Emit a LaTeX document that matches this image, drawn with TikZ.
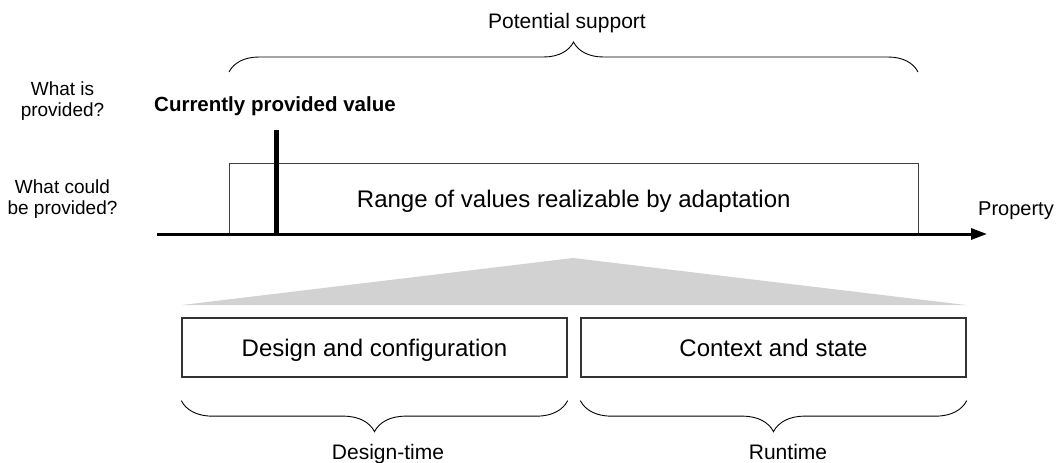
\documentclass[tikz,border=0pt]{standalone}
\usepackage{fontspec}
\setmainfont{Liberation Sans}
\usetikzlibrary{arrows.meta,decorations.pathreplacing,positioning}
\colorlet{colorAxis}{black}
\colorlet{colorBox}{black!80}
\colorlet{colorRange}{black!75}
\colorlet{colorSpread}{gray!35}
\tikzset{
   every path/.style={>=Stealth},
   axis/.style={-{Triangle[length=16pt,width=11pt]},draw=colorAxis,line width=3pt},
   bar/.style={draw=colorAxis,line width=4.5pt},
   rangebox/.style={draw=colorRange,line width=0.9pt,inner sep=0pt,minimum width=688.5pt,minimum height=70.5pt,text height=17.5pt,text depth=0pt,font=\fontsize{24}{28}\selectfont},
   source/.style={draw=colorBox,line width=1.3pt,inner sep=0pt,minimum width=385pt,minimum height=59pt,text height=17pt,text depth=0pt,font=\fontsize{24}{28}\selectfont},
   brace up/.style={decorate,decoration={brace,amplitude=#1},line width=0.9pt},
   brace down/.style={decorate,decoration={brace,mirror,amplitude=#1},line width=0.9pt},
   question/.style={align=center,inner sep=0pt,font=\fontsize{19}{21.7}\selectfont},
   caption/.style={anchor=base,inner sep=0pt,font=\fontsize{21}{25}\selectfont},
}

\begin{document}
\begin{tikzpicture}[x=1pt,y=-1pt]
\useasboundingbox (0,0) rectangle (1058,463);
% potential support
\node[caption] (potential) at (567,28.3) {Potential support};
\coordinate (psL) at (229,72);
\coordinate (psR) at (918,72);
\draw[brace up=30pt] (psL) -- (psR);

\node[question] (whatis) at (62.5,101) {What is\\provided?};
\node[question] (whatcould) at (62.5,199) {What could\\be provided?};

\node[anchor=base west,inner sep=0pt,font=\bfseries\fontsize{20.5}{24}\selectfont] (current) at (154,111.7) {Currently provided value};

\node[rangebox] (range) at (573.75,198.75) {Range of values realizable by adaptation};

% property axis
\coordinate (axL) at (157,234);
\coordinate (axR) at (987,234);
\draw[axis] (axL) -- (axR);
\node[anchor=base west,inner sep=0pt,font=\fontsize{20}{24}\selectfont] (property) at (978,215) {Property};

\coordinate (bartop) at (276.5,130);
\draw[bar] (bartop) -- (bartop |- axL);

% sources of adaptation
\fill[colorSpread] (573,258) -- (966,305) -- (182,305) -- cycle;
\node[source] (design) at (374.5,347.5) {Design and configuration};
\node[source] (context) at (773.5,347.5) {Context and state};

\draw[brace down=31pt] ([yshift=-23pt]design.south west) -- ([yshift=-23pt]design.south east);
\draw[brace down=31pt] ([yshift=-23pt]context.south west) -- ([yshift=-23pt]context.south east);
\node[caption] (designtime) at (388,459) {Design-time};
\node[caption] (runtime) at (788,459) {Runtime};
\end{tikzpicture}
\end{document}
